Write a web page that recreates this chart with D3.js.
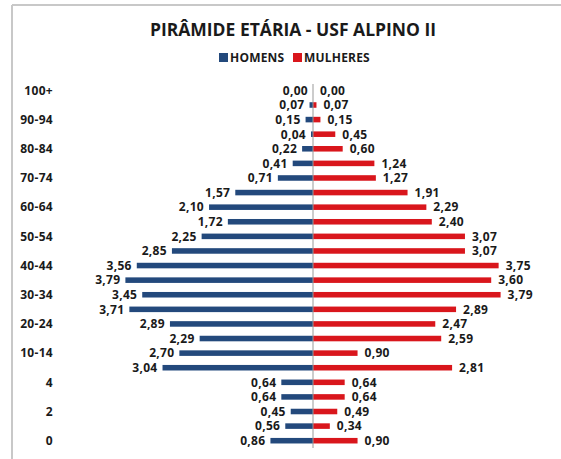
<!DOCTYPE html>
<html><head><meta charset="utf-8">
<script src="https://cdn.jsdelivr.net/npm/d3@7"></script>
<style>
html,body{margin:0;padding:0;background:#fff;}
text{font-family:"Open Sans",sans-serif;font-weight:700;fill:#1a1a1a;}
</style></head>
<body><svg id="c" width="561" height="459"></svg>
<script>
const categories = ["100+","95-99","90-94","85-89","80-84","75-79","70-74","65-69","60-64","55-59","50-54","45-49","40-44","35-39","30-34","25-29","20-24","15-19","10-14","5-9","4","3","2","1","0"];
const tickLabels = ["100+","90-94","80-84","70-74","60-64","50-54","40-44","30-34","20-24","10-14","4","2","0"];
const homens = [0.00,0.07,0.15,0.04,0.22,0.41,0.71,1.57,2.10,1.72,2.25,2.85,3.56,3.79,3.45,3.71,2.89,2.29,2.70,3.04,0.64,0.64,0.45,0.56,0.86];
const mulheres = [0.00,0.07,0.15,0.45,0.60,1.24,1.27,1.91,2.29,2.40,3.07,3.07,3.75,3.60,3.79,2.89,2.47,2.59,0.90,2.81,0.64,0.64,0.49,0.34,0.90];
const seriesNames = ["HOMENS","MULHERES"];
const colors = ["#23497c","#d9161c"];
const title = "PIRÂMIDE ETÁRIA - USF ALPINO II";

const svg = d3.select("#c");
const fmt = v => d3.format(".2f")(v).replace(".", ",");

// frame
svg.append("line").attr("x1",12).attr("x2",561).attr("y1",5).attr("y2",5).attr("stroke","#c8c8c8").attr("stroke-width",2);
svg.append("line").attr("x1",12).attr("x2",12).attr("y1",5).attr("y2",459).attr("stroke","#c8c8c8").attr("stroke-width",2);

svg.append("text").attr("x",293).attr("y",36).attr("text-anchor","middle").style("font-size","17.5px").text(title);

// legend
const leg = [{x:219,t:0},{x:293,t:1}];
leg.forEach(l=>{
  svg.append("rect").attr("x",l.x).attr("y",53).attr("width",9).attr("height",9).attr("fill",colors[l.t]);
  svg.append("text").attr("x",l.x+11).attr("y",62).style("font-size","12px").style("letter-spacing","0.2px").text(seriesNames[l.t]);
});

const cx = 313;
const x = d3.scaleLinear().domain([-4,4]).range([cx-198, cx+198]);
const y = d3.scaleBand().domain(categories).range([83.1,448]).paddingInner(0.62).paddingOuter(0.31);

svg.append("g").selectAll("rect").data(homens).join("rect")
  .attr("x",(d)=>x(-d)).attr("width",d=>x(0)-x(-d))
  .attr("y",(d,i)=>y(categories[i])).attr("height",y.bandwidth()).attr("fill",colors[0]);
svg.append("g").selectAll("rect").data(mulheres).join("rect")
  .attr("x",x(0)).attr("width",d=>x(d)-x(0))
  .attr("y",(d,i)=>y(categories[i])).attr("height",y.bandwidth()).attr("fill",colors[1]);

svg.append("line").attr("x1",x(0)).attr("x2",x(0)).attr("y1",84).attr("y2",448).attr("stroke","#999").attr("stroke-width",1);

const mid = c => y(c)+y.bandwidth()/2;
svg.append("g").selectAll("text").data(homens).join("text")
  .attr("x",d=>x(-d)-5).attr("y",(d,i)=>mid(categories[i])).attr("dy","0.36em")
  .attr("text-anchor","end").style("font-size","12px").style("letter-spacing","0.3px").text(fmt);
svg.append("g").selectAll("text").data(mulheres).join("text")
  .attr("x",d=>x(d)+7).attr("y",(d,i)=>mid(categories[i])).attr("dy","0.36em")
  .style("font-size","12px").style("letter-spacing","0.3px").text(fmt);

// category axis labels
svg.append("g").selectAll("text").data(tickLabels).join("text")
  .attr("x",53).attr("y",d=>mid(d)).attr("dy","0.36em").attr("text-anchor","end")
  .style("font-size","12px").style("letter-spacing","0.3px").text(d=>d);
</script></body></html>
